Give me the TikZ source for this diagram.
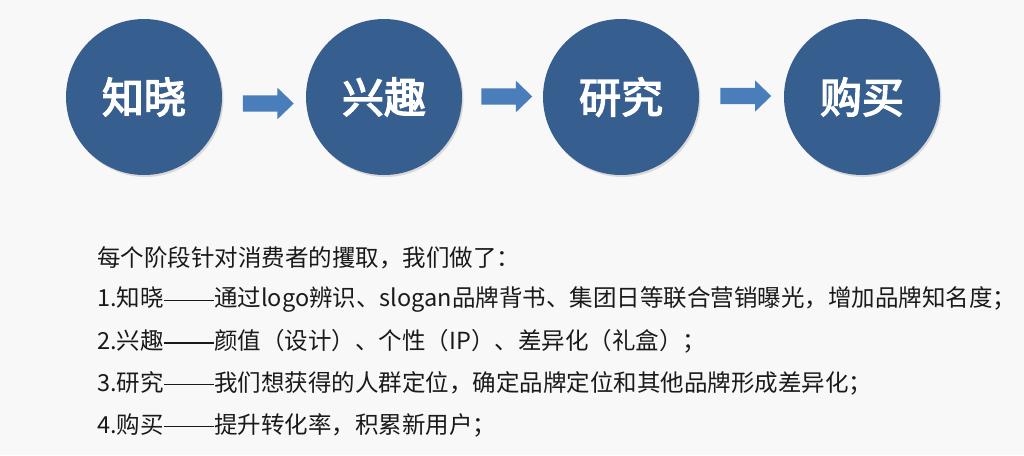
\documentclass[tikz,border=0pt]{standalone}
\usepackage{fontspec}
\setmainfont{Noto Sans CJK SC}
\usetikzlibrary{shapes.arrows,shadows}
\definecolor{bgc}{HTML}{F8F8F8}
\definecolor{circ}{HTML}{365E8E}
\definecolor{arr}{HTML}{4A7EBB}
\definecolor{txt}{HTML}{1A1A1A}
\newcommand{\longdash}{\rule[0.24em]{2.15em}{0.06em}}
\newcommand{\heavytext}[1]{\special{pdf:literal direct 1.4 w 2 Tr}#1\special{pdf:literal direct 0 Tr}}
\tikzset{
  stage/.style={circle, fill=circ, minimum size=156pt, inner sep=0pt, text=white,
    font=\fontsize{42}{48}\selectfont, drop shadow={shadow xshift=1.5pt, shadow yshift=-2pt, opacity=0.25}},
  flow/.style={single arrow, fill=arr, draw=none, minimum height=51pt,
    single arrow head extend=7.5pt, single arrow tip angle=88, inner sep=0pt},
  line/.style={anchor=west, text=txt, font=\fontsize{23.5}{27}\selectfont, inner sep=0pt}
}
\begin{document}
\begin{tikzpicture}[x=1pt,y=-1pt]
\fill[bgc] (0,0) rectangle (1024,455);
\useasboundingbox (0,0) rectangle (1024,455);
\node[stage] (s1) at (144,97) {\heavytext{知晓}};
\node[stage] (s2) at (384,97) {\heavytext{兴趣}};
\node[stage] (s3) at (621,97) {\heavytext{研究}};
\node[stage] (s4) at (862,97) {\heavytext{购买}};
\node[flow] (a1) at (264,103.5) {\rule{0pt}{16pt}};
\node[flow] (a2) at (502.5,96.5) {\rule{0pt}{16pt}};
\node[flow] (a3) at (741.5,96) {\rule{0pt}{16pt}};
\node[line] (t0) at (97,258) {每个阶段针对消费者的攫取，我们做了：};
\node[line] (t1) at (97,300) {1.知晓\longdash 通过logo辨识、slogan品牌背书、集团日等联合营销曝光，增加品牌知名度；};
\node[line] (t2) at (97,341) {2.兴趣\longdash 颜值（设计）、个性（IP）、差异化（礼盒）；};
\node[line] (t3) at (97,383) {3.研究\longdash 我们想获得的人群定位，确定品牌定位和其他品牌形成差异化；};
\node[line] (t4) at (97,425) {4.购买\longdash 提升转化率，积累新用户；};
\end{tikzpicture}
\end{document}
